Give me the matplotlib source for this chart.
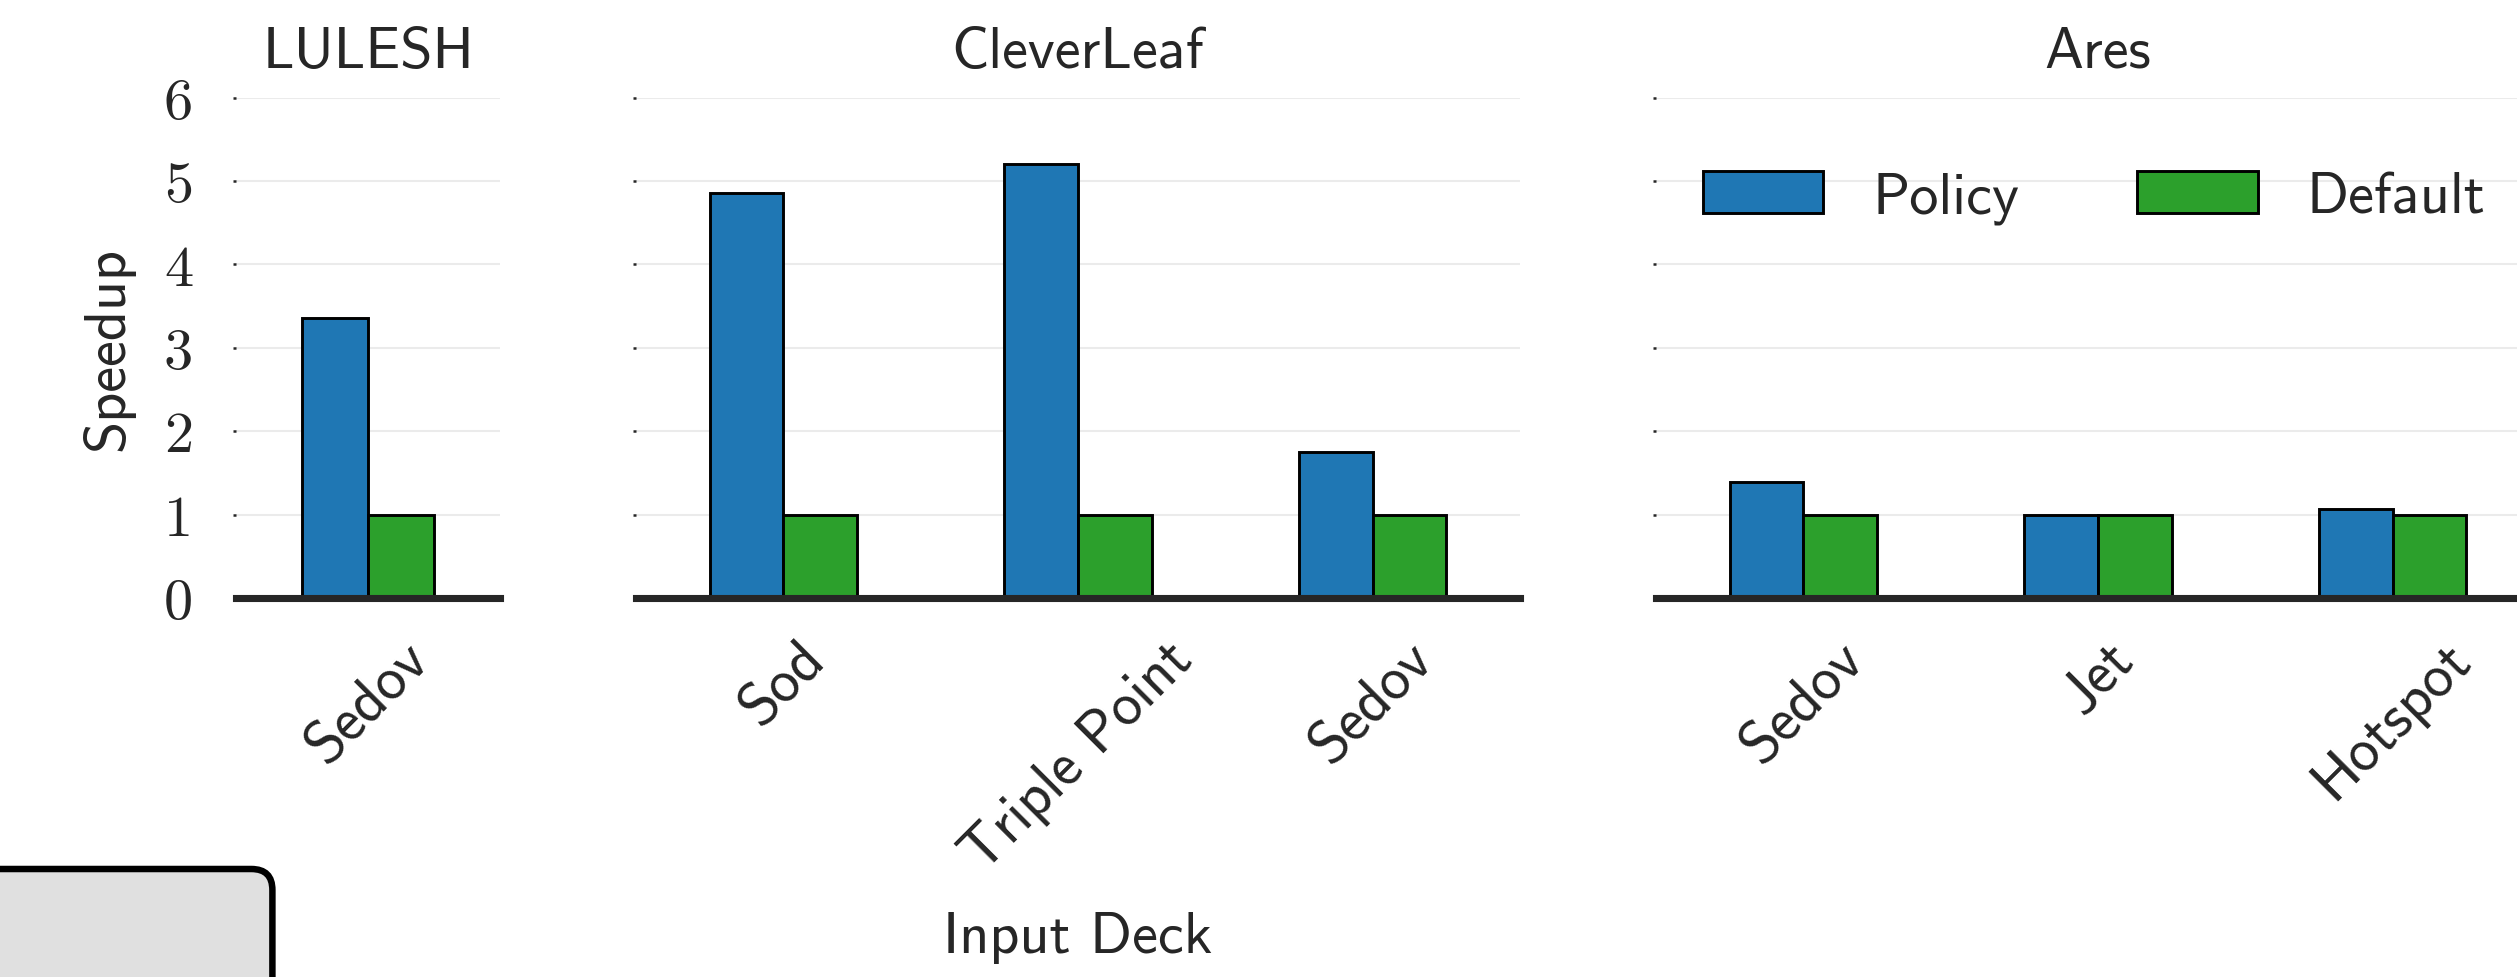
import matplotlib
matplotlib.use('Agg')
import matplotlib.pyplot as plt
from matplotlib.patches import FancyBboxPatch
import numpy as np

# speedup per input deck, normalised to the default configuration
lulesh_decks = ['Sedov']
lulesh_policy = [3.36]
lulesh_default = [1.0]

cleverleaf_decks = ['Sod', 'Triple Point', 'Sedov']
cleverleaf_policy = [4.86, 5.20, 1.75]
cleverleaf_default = [1.0, 1.0, 1.0]

ares_decks = ['Sedov', 'Jet', 'Hotspot']
ares_policy = [1.39, 0.99, 1.07]
ares_default = [1.0, 1.0, 1.0]

y_ticks = [0, 1, 2, 3, 4, 5, 6]

plt.rcParams['font.family'] = 'cmss10'
plt.rcParams['axes.unicode_minus'] = False
plt.rcParams['text.color'] = '#262626'
plt.rcParams['axes.labelcolor'] = '#262626'
plt.rcParams['xtick.color'] = '#262626'
plt.rcParams['ytick.color'] = '#262626'

W, H = 2517, 978
fig = plt.figure(figsize=(W / 300, H / 300), dpi=300)

bottom = (H - 599) / H
height = (599 - 98.7) / H
panels = [
    ('LULESH', lulesh_decks, lulesh_policy, lulesh_default, 236, 264),
    ('CleverLeaf', cleverleaf_decks, cleverleaf_policy, cleverleaf_default, 636, 884),
    ('Ares', ares_decks, ares_policy, ares_default, 1656, 884),
]

bw = 0.25
axes = []
for i, (name, decks, pol, dflt, x0, w) in enumerate(panels):
    ax = fig.add_axes([x0 / W, bottom, w / W, height])
    x = np.arange(len(decks))
    ax.bar(x - bw / 2, pol, bw, color='#1f77b4', edgecolor='black',
           linewidth=0.7, label='Policy', zorder=2)
    ax.bar(x + bw / 2, dflt, bw, color='#2ca02c', edgecolor='black',
           linewidth=0.7, label='Default', zorder=2)
    ax.set_xlim(-0.5, len(decks) - 0.5)
    ax.set_ylim(0, 6)
    ax.set_yticks(y_ticks)
    ax.set_xticks(x)
    ax.set_xticklabels(decks, rotation=45, ha='center', fontsize=14.3)
    ax.tick_params(axis='x', length=0, pad=8)
    ax.tick_params(axis='y', length=0.8, width=0.6, pad=9.5)
    ax.grid(axis='y', color='#ebebeb', linewidth=0.5)
    ax.set_axisbelow(True)
    for s in ['left', 'right', 'top']:
        ax.spines[s].set_visible(False)
    ax.spines['bottom'].set_linewidth(1.7)
    ax.spines['bottom'].set_color('#262626')
    ax.spines['bottom'].set_zorder(3)
    ax.set_title(name, fontsize=14, pad=7.4)
    if i == 0:
        ax.set_yticklabels([str(t) for t in y_ticks], fontsize=14,
                           fontfamily='cmr10')
        ax.set_ylabel('Speedup', fontsize=14, labelpad=7)
    else:
        ax.set_yticklabels([])
    axes.append(ax)

axes[1].set_xlabel('Input Deck', fontsize=14)
axes[1].xaxis.set_label_coords(0.5, -0.626)

axes[2].legend(loc='center left', bbox_to_anchor=(0.053, 0.8005), ncol=2,
               frameon=False, fontsize=14, borderpad=0, borderaxespad=0,
               handlelength=2.06, handleheight=0.74, handletextpad=0.84,
               columnspacing=2.03)

# rounded box peeking in at the lower left corner
box = FancyBboxPatch((-0.3, -0.3), 0.3 + 0.908, 0.3 + 0.36,
                     boxstyle='round,pad=0,rounding_size=0.07',
                     facecolor='#e0e0e0', edgecolor='black', linewidth=1.56,
                     transform=fig.dpi_scale_trans, clip_on=False)
fig.patches.append(box)

fig.savefig('out.png', dpi=300)
